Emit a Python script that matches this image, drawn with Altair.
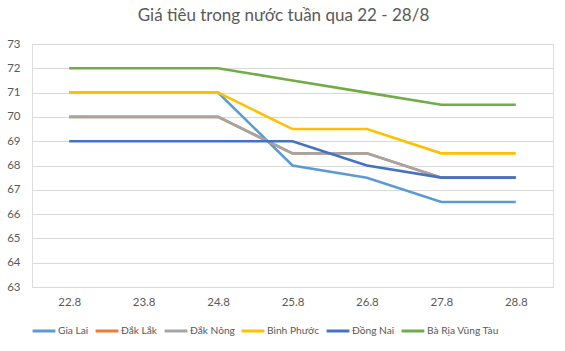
import altair as alt
import pandas as pd

dates = ["22.8", "23.8", "24.8", "25.8", "26.8", "27.8", "28.8"]
series_names = ["Gia Lai", "Đắk Lắk", "Đắk Nông", "Bình Phước", "Đồng Nai", "Bà Rịa Vũng Tàu"]
colors = ["#5B9BD5", "#ED7D31", "#A5A5A5", "#FFC000", "#4472C4", "#70AD47"]

gia_lai = [71, 71, 71, 68, 67.5, 66.5, 66.5]
dak_lak = [70, 70, 70, 68.5, 68.5, 67.5, 67.5]
dak_nong = [70, 70, 70, 68.5, 68.5, 67.5, 67.5]
binh_phuoc = [71, 71, 71, 69.5, 69.5, 68.5, 68.5]
dong_nai = [69, 69, 69, 69, 68, 67.5, 67.5]
brvt = [72, 72, 72, 71.5, 71, 70.5, 70.5]

values = [gia_lai, dak_lak, dak_nong, binh_phuoc, dong_nai, brvt]
rows = []
for i, (name, vals) in enumerate(zip(series_names, values)):
    for d, v in zip(dates, vals):
        rows.append({"date": d, "price": v, "series": name, "ord": i})
df = pd.DataFrame(rows)

FONT = "Lato"
GREY = "#595959"

chart = alt.Chart(df).mark_line(strokeWidth=2.6).encode(
    x=alt.X("date:N", sort=dates, title=None,
            scale=alt.Scale(type="point", padding=0.5),
            axis=alt.Axis(labelAngle=0, ticks=False, domain=False, grid=False,
                          labelPadding=9, labelFontSize=11.5, labelColor=GREY, labelFont=FONT)),
    y=alt.Y("price:Q", title=None,
            scale=alt.Scale(domain=[63, 73], nice=False, zero=False),
            axis=alt.Axis(values=list(range(63, 74)), ticks=False, domain=False,
                          gridColor="#D9D9D9", gridWidth=1, labelPadding=12,
                          labelFontSize=11.5, labelColor=GREY, labelFont=FONT)),
    color=alt.Color("series:N", sort=series_names,
                    scale=alt.Scale(domain=series_names, range=colors),
                    legend=alt.Legend(title=None, orient="none", legendX=-1, legendY=274,
                                      direction="horizontal", gridAlign="none",
                                      columns=6, symbolType="stroke", symbolStrokeWidth=3,
                                      symbolSize=520, labelFont=FONT, labelFontSize=10.2,
                                      labelColor=GREY, columnPadding=0, symbolOffset=0,
                                      labelOffset=1)),
    order=alt.Order("ord:Q"),
).properties(
    width=521, height=243,
    padding={"left": 32, "top": 44, "right": 12, "bottom": 64},
    autosize=alt.AutoSizeParams(type="none"),
    title=alt.TitleParams("Giá tiêu trong nước tuần qua 22 - 28/8", font=FONT,
                          fontSize=17, fontWeight="normal", color=GREY, offset=13,
                          anchor="middle", dx=-9),
).configure_view(stroke=None).configure(background="white")

chart.save("out.html", embed_options={"renderer": "svg", "actions": False})
